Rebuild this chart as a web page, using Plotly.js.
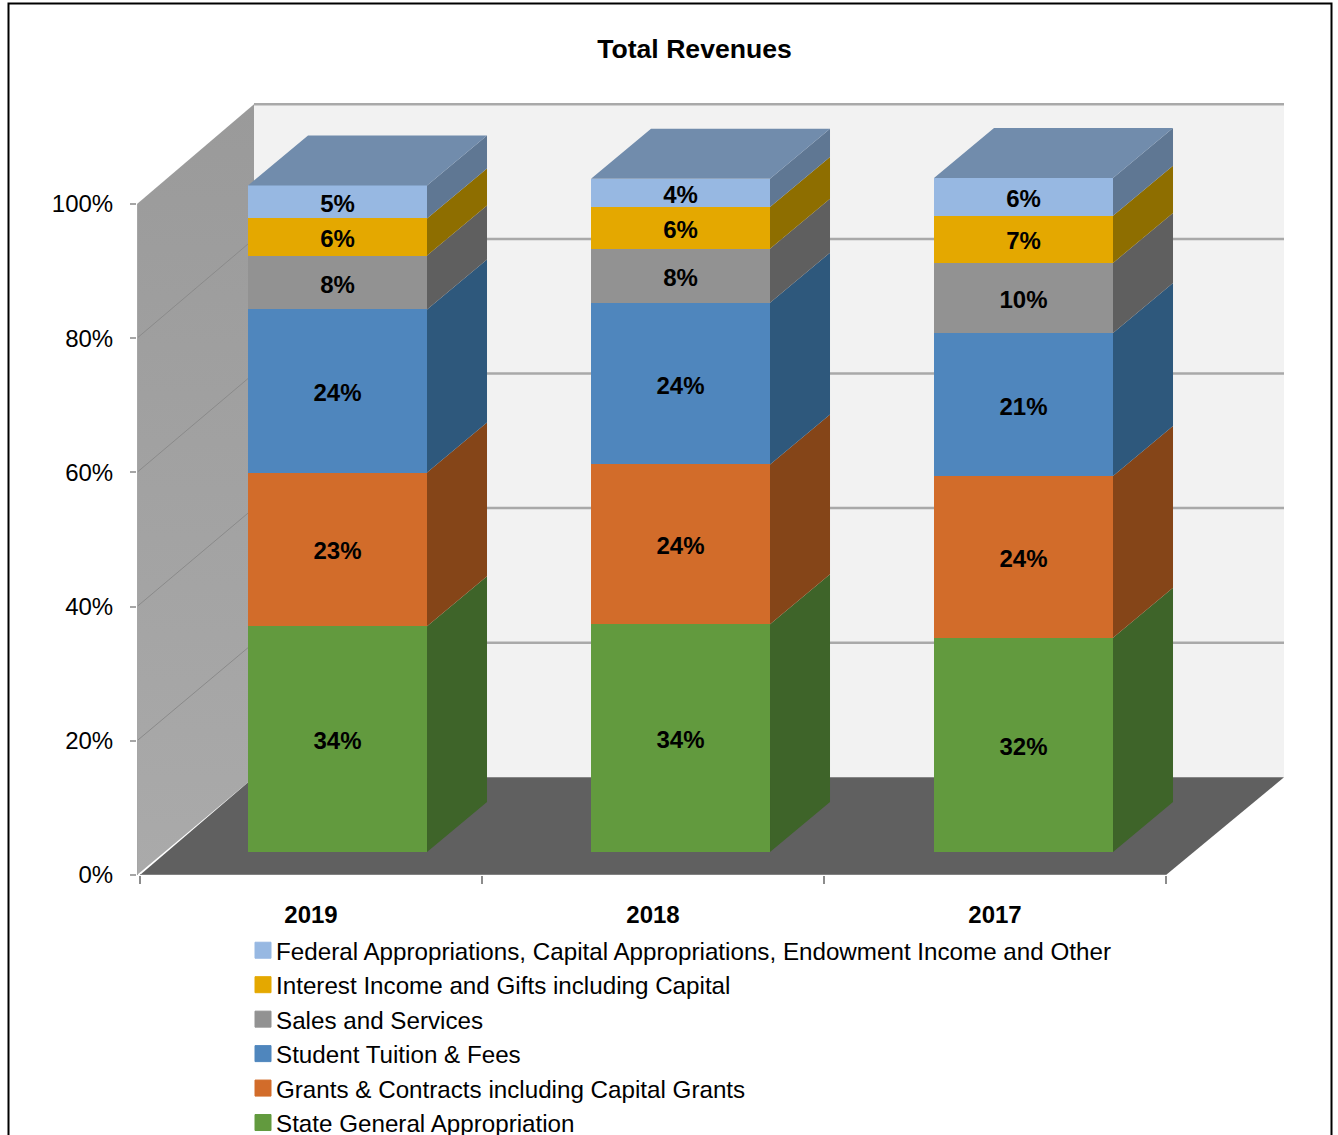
<!DOCTYPE html>
<html>
<head>
<meta charset="utf-8">
<script src="https://cdn.plot.ly/plotly-3.0.1.min.js"></script>
<style>html,body{margin:0;padding:0;background:#fff;overflow:hidden}</style>
</head>
<body>
<div id="chart" style="width:1338px;height:1135px"></div>
<script>
var years = ["2019", "2018", "2017"];
var seriesNames = [
  "State General Appropriation",
  "Grants & Contracts including Capital Grants",
  "Student Tuition & Fees",
  "Sales and Services",
  "Interest Income and Gifts including Capital",
  "Federal Appropriations, Capital Appropriations, Endowment Income and Other"
];
var stateGeneral = [33.5, 33.8, 31.8];
var grantsContracts = [22.8, 23.7, 24.0];
var tuitionFees = [24.2, 24.0, 21.2];
var salesServices = [8.0, 8.0, 10.4];
var interestGifts = [5.5, 6.2, 7.0];
var federalOther = [4.9, 4.2, 5.6];
var frontColors = ["#629a3e", "#d26c2a", "#4f86bd", "#929292", "#e4a800", "#97b8e2"];
var sideColors = ["#3e6429", "#854518", "#2e587c", "#5f5f5f", "#8e6e00", "#5f7793"];
var topColor = "#718cac";
var yTicks = [0, 20, 40, 60, 80, 100];

var allValues = [stateGeneral, grantsContracts, tuitionFees, salesServices, interestGifts, federalOther];
var FONT = '"Liberation Sans", Arial, sans-serif';

// geometry in axis units
var unitsPerCat = 342;               // px per x unit
var barSpacing = 343 / 342;
var barStart = 0.3158, barW = 0.5234;    // offset of bar in a category slot
var barDX = 60 / unitsPerCat, barDY = 50 / 6.74;
var wallDX = 114 / unitsPerCat, wallDXR = 118 / unitsPerCat, wallDY = 97.7 / 6.71, wallScale = 1.003;

var traces = [];
function poly(xs, ys, color, extra) {
  var t = {x: xs, y: ys, type: "scatter", mode: "lines", fill: "toself", fillcolor: color,
    line: {width: 0, color: color}, hoverinfo: "skip", showlegend: false};
  for (var k in extra) t[k] = extra[k];
  traces.push(t);
}
var xMin = -0.0088, xEnd = 3;
// left wall
poly([xMin, xMin, wallDX, wallDX, xMin], [0, 100, wallDY + 100 * wallScale, wallDY, 0], "#a0a0a0", {
  fillgradient: {type: "vertical", colorscale: [[0, "#aaaaaa"], [1, "#9a9a9a"]]}
});
// back wall
poly([wallDX, wallDX, xEnd + wallDXR, xEnd + wallDXR, wallDX],
     [wallDY, wallDY + 100 * wallScale, wallDY + 100 * wallScale, wallDY, wallDY], "#f2f2f2");
// floor
poly([0, xEnd, xEnd + wallDXR, wallDX, 0], [0, 0, wallDY, wallDY, 0], "#606060");

// gridlines on both walls
var gx = [], gy = [], lx = [], ly = [];
yTicks.forEach(function (v) {
  if (v > 0) { gx.push(wallDX, xEnd + wallDXR, null); gy.push(wallDY + v * wallScale, wallDY + v * wallScale, null); }
  if (v > 0 && v < 100) { lx.push(xMin, wallDX, null); ly.push(v, wallDY + v * wallScale, null); }
});
traces.push({x: gx, y: gy, type: "scatter", mode: "lines", line: {color: "#a9a9a9", width: 2.5}, hoverinfo: "skip", showlegend: false});
traces.push({x: lx, y: ly, type: "scatter", mode: "lines", line: {color: "#8a8a8a", width: 1}, hoverinfo: "skip", showlegend: false});
// wall edge and front axis line
traces.push({x: [xMin, xMin], y: [0, 100], type: "scatter", mode: "lines", line: {color: "#a6a6a6", width: 2}, cliponaxis: false, hoverinfo: "skip", showlegend: false});
traces.push({x: [0, xEnd], y: [0, 0], type: "scatter", mode: "lines", line: {color: "#8c8c8c", width: 1.5}, cliponaxis: false, hoverinfo: "skip", showlegend: false});

var slots = years.map(function (_, i) { return i + 0.5; });
var barCentres = years.map(function (_, i) { return i * barSpacing + barStart + barW / 2; });

// front faces
seriesNames.forEach(function (name, s) {
  traces.push({
    type: "bar", xaxis: "x", yaxis: "y2", x: barCentres, y: allValues[s], name: name,
    width: barW,
    marker: {color: frontColors[s], line: {width: 0}},
    showlegend: false, legendgroup: name,
    hovertemplate: name + "<br>%{y}%<extra></extra>"
  });
});
// side faces & top
var running = years.map(function () { return 0; });
var labelY = [], labelX = [], labelText = [];
seriesNames.forEach(function (name, s) {
  var xs = [], ys = [];
  years.forEach(function (_, i) {
    var x1 = i * barSpacing + barStart + barW, y0 = running[i], y1 = y0 + allValues[s][i];
    xs.push(x1, x1 + barDX, x1 + barDX, x1, x1, null);
    ys.push(y0, y0 + barDY, y1 + barDY, y1, y0, null);
    labelX.push(barCentres[i]);
    labelY.push((y0 + y1) / 2 - 0.6);
    labelText.push(Math.round(allValues[s][i]) + "%");
    running[i] = y1;
  });
  poly(xs, ys, sideColors[s], {xaxis: "x", yaxis: "y2", legendgroup: name});
});
var tx = [], ty = [];
years.forEach(function (_, i) {
  var x0 = i * barSpacing + barStart, x1 = x0 + barW, y = running[i];
  tx.push(x0, x1, x1 + barDX, x0 + barDX, x0, null);
  ty.push(y, y, y + barDY, y + barDY, y, null);
});
poly(tx, ty, topColor, {xaxis: "x", yaxis: "y2"});

// data labels
traces.push({
  type: "scatter", mode: "text", xaxis: "x", yaxis: "y2", x: labelX, y: labelY, text: labelText,
  textposition: "middle center", textfont: {family: FONT, size: 24, color: "#000", weight: "bold"},
  hoverinfo: "skip", showlegend: false
});

// legend entries (top to bottom)
for (var s = seriesNames.length - 1; s >= 0; s--) {
  traces.push({
    x: [null], y: [null], type: "scatter", mode: "markers", name: seriesNames[s],
    legendgroup: seriesNames[s],
    marker: {symbol: "square", size: 16, color: frontColors[s], line: {width: 1, color: frontColors[s]}},
    hoverinfo: "skip", showlegend: true
  });
}

var plotL = 137, plotR = 1284, plotT = 98, plotB = 875;
var layout = {
  width: 1338, height: 1135,
  margin: {l: plotL, r: 1338 - plotR, t: plotT, b: 1135 - plotB, pad: 0, autoexpand: false},
  paper_bgcolor: "#ffffff", plot_bgcolor: "rgba(0,0,0,0)",
  barmode: "stack", bargap: 0,
  font: {family: FONT, color: "#000"},
  title: {text: "Total Revenues", font: {family: FONT, size: 26.6, weight: "bold", color: "#000"},
          xref: "paper", yref: "container", x: (694.5 - plotL) / (plotR - plotL), xanchor: "center",
          y: 1 - 49 / 1135, yanchor: "middle"},
  xaxis: {
    type: "linear", range: [xMin, (plotR - 140) / unitsPerCat], showgrid: false, zeroline: false, showline: false,
    tickmode: "array", tickvals: slots, ticktext: years, ticks: "",
    tickfont: {family: FONT, size: 24, weight: "bold", color: "#000"},
    ticklabelstandoff: 23,
    minor: {tickmode: "array", tickvals: [0, 1, 2, 3], ticks: "outside", ticklen: 8, tickwidth: 1.5, tickcolor: "#8c8c8c", showgrid: false}
  },
  yaxis: {
    range: [0, (plotB - plotT) / 6.71], showgrid: false, zeroline: false, showline: false,
    tickmode: "array", tickvals: yTicks, ticktext: yTicks.map(function (v) { return v + "%"; }),
    ticks: "outside", ticklen: 6, tickwidth: 1.5, tickcolor: "#a6a6a6",
    tickfont: {family: FONT, size: 24, color: "#000"},
    ticklabelstandoff: 12
  },
  yaxis2: {
    overlaying: "y", side: "left", visible: false,
    range: [(852 - plotB) / 6.74, (852 - plotT) / 6.74], showgrid: false, zeroline: false
  },
  legend: {
    x: (236 - plotL) / (plotR - plotL), xanchor: "left",
    y: -(928 - plotB) / (plotB - plotT), yanchor: "top",
    bgcolor: "rgba(0,0,0,0)", borderwidth: 0, traceorder: "normal",
    font: {family: FONT, size: 24.2, color: "#000"}
  },
  shapes: [{
    type: "rect", xref: "paper", yref: "paper", layer: "below",
    x0: (8.5 - plotL) / (plotR - plotL), x1: (1331.5 - plotL) / (plotR - plotL),
    y0: (plotB - 1160) / (plotB - plotT), y1: (plotB - 3.5) / (plotB - plotT),
    line: {color: "#000", width: 2}, fillcolor: "rgba(0,0,0,0)"
  }],
  showlegend: true
};
Plotly.newPlot("chart", traces, layout, {displayModeBar: false, responsive: false}).then(function () {
  // bring the swatches closer to their text, as in the reference
  document.querySelectorAll(".legend .legendsymbols").forEach(function (g) {
    g.setAttribute("transform", "translate(7,0)");
  });
});
</script>
</body>
</html>
